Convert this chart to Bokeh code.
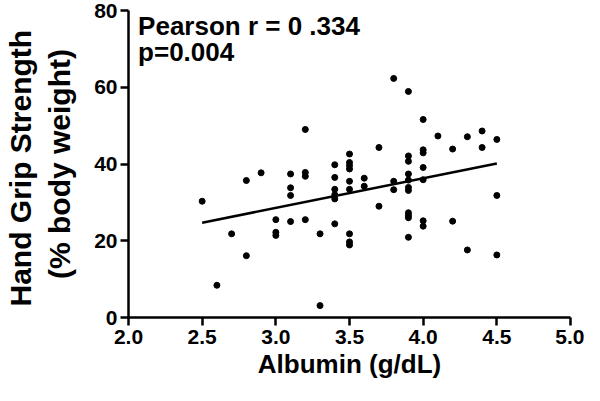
import numpy as np
from bokeh.plotting import figure
from bokeh.models import Range1d, FixedTicker, PrintfTickFormatter, Label, ColumnDataSource
from bokeh.embed import file_html
from bokeh.resources import INLINE

# ---- data ----
albumin = [2.5, 2.6, 2.7, 2.8, 2.8, 2.9,
           3.0, 3.0, 3.0,
           3.1, 3.1, 3.1, 3.1,
           3.2, 3.2, 3.2, 3.2,
           3.3, 3.3,
           3.4, 3.4, 3.4, 3.4, 3.4, 3.4,
           3.5, 3.5, 3.5, 3.5, 3.5, 3.5, 3.5, 3.5, 3.5,
           3.6, 3.6,
           3.7, 3.7,
           3.8, 3.8, 3.8,
           3.9, 3.9, 3.9, 3.9, 3.9, 3.9, 3.9, 3.9, 3.9, 3.9, 3.9,
           4.0, 4.0, 4.0, 4.0, 4.0, 4.0, 4.0,
           4.1,
           4.2, 4.2,
           4.3, 4.3,
           4.4, 4.4,
           4.5, 4.5, 4.5]
grip = [30.3, 8.4, 21.8, 35.7, 16.1, 37.7,
        25.5, 22.2, 21.4,
        37.4, 33.8, 31.8, 25.0,
        49.0, 37.8, 36.8, 25.5,
        21.8, 3.1,
        39.8, 36.5, 33.4, 32.0, 30.9, 24.4,
        42.6, 40.4, 39.6, 38.7, 35.5, 33.4, 21.8, 19.7, 18.9,
        36.3, 34.2,
        44.3, 29.0,
        62.3, 35.5, 33.3,
        58.9, 42.1, 40.7, 37.4, 35.8, 33.9, 33.1, 27.3, 26.6, 26.0, 20.9,
        51.6, 43.7, 42.9, 39.1, 35.9, 25.2, 23.8,
        47.3,
        43.9, 25.1,
        47.1, 17.6,
        48.6, 44.3,
        46.4, 31.8, 16.3]
x_ticks = [2.0, 2.5, 3.0, 3.5, 4.0, 4.5, 5.0]
y_ticks = [0, 20, 40, 60, 80]
stat_lines = ["Pearson r = 0 .334", "p=0.004"]
stat_y = [80.0, 73.0]

FONT = "Liberation Sans"

p = figure(width=584, height=385, output_backend="svg", toolbar_location=None,
           x_range=Range1d(2.0, 5.0), y_range=Range1d(0, 80),
           min_border_left=123, min_border_right=14, min_border_top=10, min_border_bottom=68)
p.background_fill_color = "white"
p.border_fill_color = "white"
p.outline_line_color = None
p.grid.visible = False

src = ColumnDataSource(dict(x=albumin, y=grip))
p.scatter("x", "y", source=src, size=6, color="black")

# least-squares regression line over the data span
slope, intercept = np.polyfit(np.array(albumin), np.array(grip), 1)
xs = np.array([min(albumin), max(albumin)])
p.line(xs, slope * xs + intercept, line_color="black", line_width=2.5)

p.xaxis.ticker = FixedTicker(ticks=x_ticks)
p.yaxis.ticker = FixedTicker(ticks=y_ticks)
p.xaxis.formatter = PrintfTickFormatter(format="%.1f")
p.yaxis.formatter = PrintfTickFormatter(format="%d")

for ax in (p.xaxis, p.yaxis):
    ax.axis_line_color = "black"
    ax.axis_line_width = 2.5
    ax.major_tick_line_color = "black"
    ax.major_tick_line_width = 2.5
    ax.major_tick_out = 8
    ax.major_tick_in = 0
    ax.minor_tick_out = 0
    ax.minor_tick_in = 0
    ax.major_label_text_font = FONT
    ax.major_label_text_font_style = "bold"
    ax.major_label_text_font_size = "21px"
    ax.major_label_text_color = "black"
    ax.axis_label_text_font = FONT
    ax.axis_label_text_font_style = "bold"
    ax.axis_label_text_color = "black"

p.xaxis.major_label_standoff = 4
p.yaxis.major_label_standoff = 3
p.xaxis.axis_label = "Albumin (g/dL)"
p.xaxis.axis_label_text_font_size = "26px"
p.xaxis.axis_label_standoff = 2
p.yaxis.axis_label = "Hand  Grip Strength\n(% body weight)"
p.yaxis.axis_label_text_font_size = "30px"
p.yaxis.axis_label_standoff = 15

for txt, yv in zip(stat_lines, stat_y):
    p.add_layout(Label(x=2.065, y=yv, text=txt, text_font=FONT, text_font_style="bold",
                       text_font_size="26px", text_baseline="top", text_color="black"))

open("out.html", "w").write(file_html(p, INLINE))
